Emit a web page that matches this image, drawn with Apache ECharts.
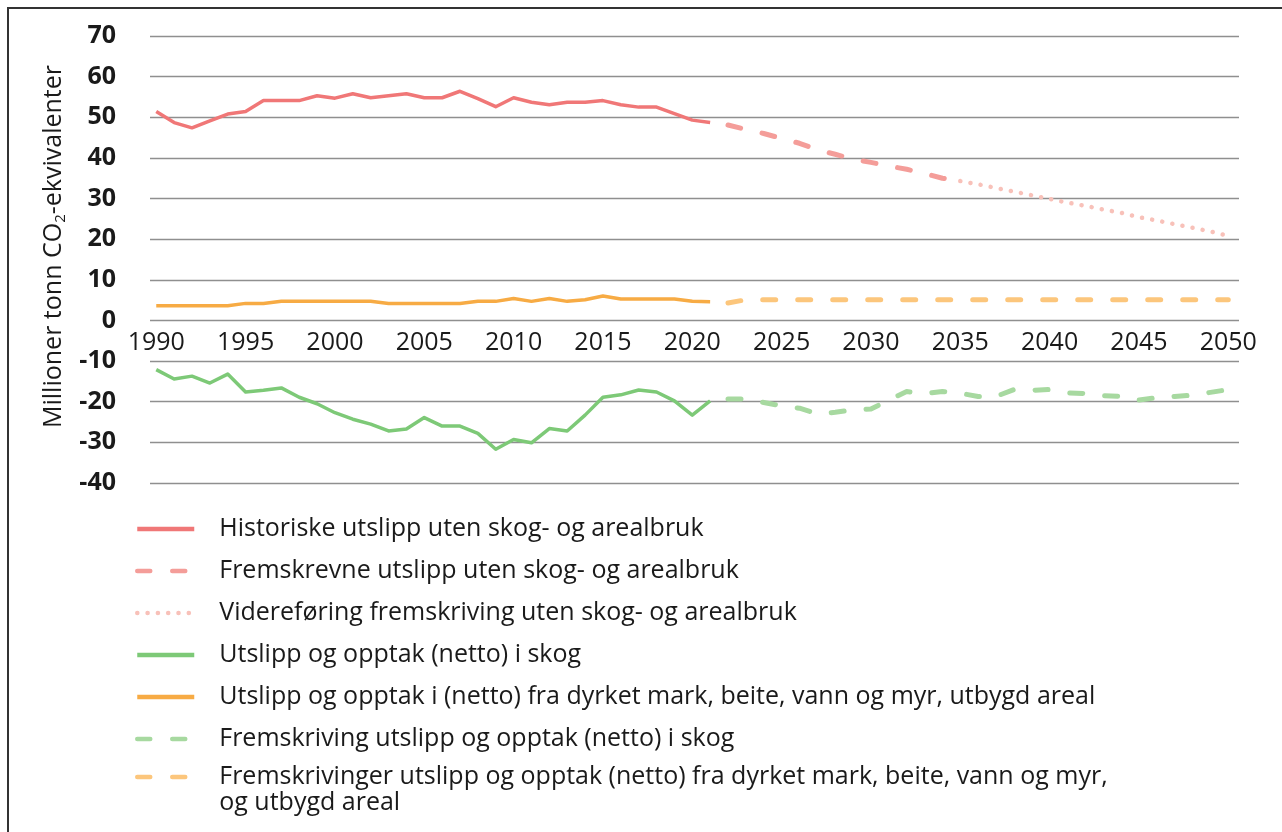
<!DOCTYPE html>
<html lang="no">
<head>
<meta charset="UTF-8">
<title>Utslipp og opptak</title>
<script src="https://cdn.jsdelivr.net/npm/echarts@6/dist/echarts.min.js"></script>
<style>
  html, body { margin: 0; padding: 0; background: #fff; }
  #chart { width: 1282px; height: 832px; }
  /* ramme oppe og til venstre, som i originalen */
  #frame { position: absolute; left: 7px; top: 7px; right: 0; bottom: 0;
           border-left: 2px solid #333; border-top: 2px solid #333; pointer-events: none; }
</style>
</head>
<body>
<div id="chart"></div>
<div id="frame"></div>
<script>
// årstall
var histYears = [1990,1991,1992,1993,1994,1995,1996,1997,1998,1999,2000,2001,2002,2003,2004,2005,
                 2006,2007,2008,2009,2010,2011,2012,2013,2014,2015,2016,2017,2018,2019,2020,2021];
var projYears = [2022,2023,2024,2025,2026,2027,2028,2029,2030,2031,2032,2033,2034,2035,2036,2037,
                 2038,2039,2040,2041,2042,2043,2044,2045,2046,2047,2048,2049,2050];
var redProjYears = [2022,2023,2024,2025,2026,2027,2028,2029,2030,2031,2032,2033,2034,2035];
var dotYears = [2035,2036,2037,2038,2039,2040,2041,2042,2043,2044,2045,2046,2047,2048,2049,2050];
var xTicks = [1990,1995,2000,2005,2010,2015,2020,2025,2030,2035,2040,2045,2050];

// utslipp uten skog- og arealbruk (mill. tonn)
var redHist = [51.4,48.7,47.4,49.1,50.8,51.4,54.1,54.1,54.1,55.3,54.7,55.8,54.8,55.3,55.8,54.8,
               54.8,56.4,54.6,52.6,54.8,53.7,53.1,53.7,53.7,54.1,53.1,52.5,52.5,50.9,49.3,48.7];
var redProj = [48.1,47.0,46.0,44.8,43.6,42.0,40.9,39.7,38.9,38.0,37.2,36.2,35.0,34.3];
var redDots = [34.3,33.5,32.6,31.7,30.8,29.9,29.0,28.2,27.3,26.5,25.4,24.6,23.7,22.8,21.9,20.8];

// skog
var greenHist = [-12.1,-14.4,-13.7,-15.4,-13.2,-17.6,-17.2,-16.6,-18.9,-20.5,-22.7,-24.3,-25.5,-27.2,-26.7,-23.9,
                 -26.0,-26.0,-27.8,-31.7,-29.3,-30.1,-26.6,-27.2,-23.3,-18.9,-18.3,-17.1,-17.6,-19.8,-23.3,-19.8];
var greenProj = [-19.3,-19.3,-20.2,-21.0,-21.6,-23.0,-22.6,-22.0,-21.8,-19.6,-17.5,-18.0,-17.5,-17.9,-18.7,
                 -18.7,-17.0,-17.2,-17.0,-17.8,-18.0,-18.5,-18.7,-19.6,-19.0,-18.7,-18.4,-17.7,-17.0];

// dyrket mark, beite, vann, myr, utbygd
var orangeHist = [3.6,3.6,3.6,3.6,3.6,4.2,4.2,4.7,4.7,4.7,4.7,4.7,4.7,4.2,4.2,4.2,
                  4.2,4.2,4.7,4.7,5.4,4.7,5.4,4.7,5.1,6.0,5.3,5.3,5.3,5.3,4.7,4.6];
var orangeProj = [4.3,5.1,5.1,5.1,5.1,5.1,5.1,5.1,5.1,5.1,5.1,5.1,5.1,5.1,5.1,
                  5.1,5.1,5.1,5.1,5.1,5.1,5.1,5.1,5.1,5.1,5.1,5.1,5.1,5.1];

var names = [
  'Historiske utslipp uten skog- og arealbruk',
  'Fremskrevne utslipp uten skog- og arealbruk',
  'Videreføring fremskriving uten skog- og arealbruk',
  'Utslipp og opptak (netto) i skog',
  'Utslipp og opptak i (netto) fra dyrket mark, beite, vann og myr, utbygd areal',
  'Fremskriving utslipp og opptak (netto) i skog',
  'Fremskrivinger utslipp og opptak (netto) fra dyrket mark, beite, vann og myr,\nog utbygd areal'
];

function pairs(xs, ys) {
  return xs.map(function (x, i) { return [x, ys[i]]; });
}

function lineSeries(name, data, color, width, dash) {
  return {
    name: name,
    type: 'line',
    data: data,
    symbol: 'none',
    silent: true,
    lineStyle: { color: color, width: width, type: dash || 'solid', cap: dash ? 'round' : 'butt', join: 'round' }
  };
}

var chart = echarts.init(document.getElementById('chart'));
var font = 'Open Sans';
var txt = '#1a1a1a';

// felles oppsett for tegnforklaringen
var legendBase = {
  orient: 'vertical',
  left: 130,
  itemWidth: 57,
  itemHeight: 14,
  itemGap: 16,
  selectedMode: false,
  itemStyle: { opacity: 0 },
  lineStyle: { width: 4.5 },
  textStyle: { fontFamily: font, fontSize: 25, color: txt, lineHeight: 26, padding: [0, 0, 0, 20] }
};

chart.setOption({
  animation: false,
  backgroundColor: '#fff',
  grid: { left: 150, right: 43, top: 36, bottom: 349 },
  xAxis: {
    type: 'value',
    min: 1989.65,
    max: 2050.6,
    // aksen flyttes opp til null-linja
    offset: -162.5,
    axisLine: { show: false, onZero: false },
    axisTick: { show: false },
    splitLine: { show: false },
    axisLabel: {
      customValues: xTicks,
      formatter: function (v) { return String(v); },
      fontFamily: font, fontSize: 25, color: txt, margin: 10
    }
  },
  yAxis: {
    type: 'value',
    min: -40, max: 70, interval: 10,
    axisLine: { show: false },
    axisTick: { show: false },
    splitLine: { lineStyle: { color: '#8f8f8f', width: 1.3 } },
    axisLabel: { fontFamily: font, fontSize: 25, fontWeight: 'bold', color: txt, margin: 34 },
    name: '{n|Millioner tonn CO}{s|2}{n|-ekvivalenter}',
    nameLocation: 'middle',
    nameGap: 80,
    nameTextStyle: {
      padding: [0, 0, 0, 26],
      rich: {
        n: { fontFamily: font, fontSize: 25, color: txt, lineHeight: 30 },
        s: { fontFamily: font, fontSize: 15, color: txt, lineHeight: 20, verticalAlign: 'bottom' }
      }
    }
  },
  legend: [
    Object.assign({}, legendBase, { top: 511, data: names.slice(0, 6) }),
    // siste post går over to linjer; en tom første linje gjør at teksten starter ved streken
    Object.assign({}, legendBase, {
      top: 733,
      data: [names[6]],
      formatter: function (name) { return '\n' + name; }
    })
  ],
  series: [
    lineSeries(names[0], pairs(histYears, redHist), '#f07777', 3.5),
    lineSeries(names[1], pairs(redProjYears, redProj), '#f49d99', 5, [13, 22]),
    lineSeries(names[2], pairs(dotYears, redDots), '#f8c1b9', 4.5, [0.1, 10.2]),
    lineSeries(names[3], pairs(histYears, greenHist), '#7dc977', 3.5),
    lineSeries(names[4], pairs(histYears, orangeHist), '#f7ab44', 3.5),
    lineSeries(names[5], pairs(projYears, greenProj), '#a7d9a0', 5, [13, 22]),
    lineSeries(names[6], pairs(projYears, orangeProj), '#fcc67c', 5, [13, 22])
  ]
});
</script>
</body>
</html>
